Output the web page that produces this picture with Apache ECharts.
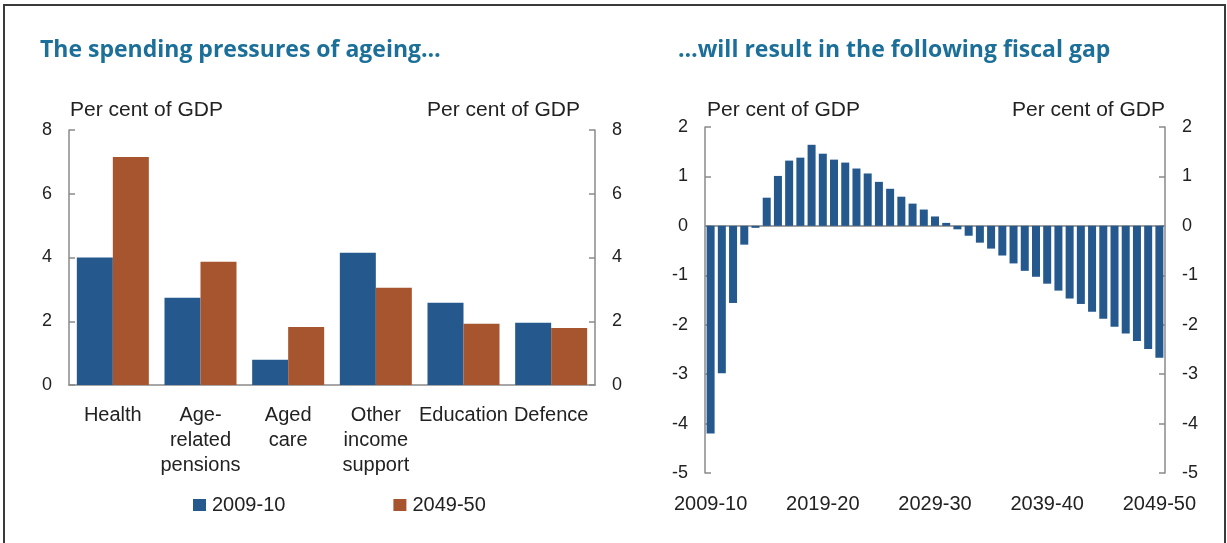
<!DOCTYPE html>
<html>
<head>
<meta charset="utf-8">
<script src="https://cdn.jsdelivr.net/npm/echarts@6/dist/echarts.min.js"></script>
<style>
  html, body { margin: 0; padding: 0; background: #fff; }
  #chart { width: 1227px; height: 543px; }
</style>
</head>
<body>
<div id="chart"></div>
<script>
// left panel: spending by function
const spendCategories = ['Health', 'Age-\nrelated\npensions', 'Aged\ncare', 'Other\nincome\nsupport', 'Education', 'Defence'];
const spend2009 = [4.0, 2.74, 0.79, 4.15, 2.58, 1.95];
const spend2049 = [7.15, 3.87, 1.82, 3.05, 1.92, 1.79];

// right panel: fiscal gap by year
const gapYears = [];
for (let y = 2009; y <= 2049; y++) {
  gapYears.push(y + '-' + String(y + 1).slice(2));
}
const fiscalGap = [
  -4.2, -2.98, -1.56, -0.38, -0.04, 0.57, 1.01, 1.32, 1.38, 1.64,
  1.46, 1.34, 1.28, 1.16, 1.06, 0.89, 0.75, 0.59, 0.45, 0.33,
  0.19, 0.06, -0.07, -0.2, -0.34, -0.46, -0.6, -0.76, -0.91, -1.03,
  -1.17, -1.31, -1.47, -1.58, -1.74, -1.88, -2.04, -2.18, -2.33, -2.49,
  -2.67
];

const BLUE = '#25598d';
const ORANGE = '#a6552e';
const AXIS = '#8a8a8a';
const TEXT = '#222';
const FONT = '"Liberation Sans", Arial, sans-serif';

const chart = echarts.init(document.getElementById('chart'));

const yAxisBase = (pos, gridIndex, min, max, interval) => ({
  type: 'value',
  gridIndex: gridIndex,
  position: pos,
  min: min,
  max: max,
  interval: interval,
  splitLine: { show: false },
  axisLine: { show: true, lineStyle: { color: AXIS, width: 1.5 } },
  axisTick: { show: true, inside: true, length: 6, lineStyle: { color: AXIS, width: 1.5 } },
  axisLabel: { color: TEXT, fontSize: 18, fontFamily: FONT, margin: 17 }
});

const unitTitle = (opts) => Object.assign({
  text: 'Per cent of GDP',
  top: 100,
  padding: 0,
  textStyle: { color: TEXT, fontSize: 21, fontWeight: 'normal', fontFamily: FONT, lineHeight: 21 }
}, opts);

// headings are a rounded geometric face in the original
const headStyle = { color: '#1b6f98', fontSize: 23, fontWeight: 'bold', fontFamily: '"Open Sans", "DejaVu Sans", sans-serif', lineHeight: 26 };

const option = {
  animation: false,
  backgroundColor: '#fff',
  title: [
    { text: 'The spending pressures of ageing…', left: 40, top: 37, padding: 0, textStyle: headStyle },
    { text: '…will result in the following fiscal gap', left: 678, top: 37, padding: 0, textStyle: headStyle },
    unitTitle({ left: 70 }),
    unitTitle({ right: 647 }),
    unitTitle({ left: 707 }),
    unitTitle({ right: 62 })
  ],
  graphic: [{
    type: 'rect',
    shape: { x: 4, y: 5, width: 1221, height: 560 },
    style: { fill: 'none', stroke: '#3a3a3a', lineWidth: 2 },
    silent: true
  }],
  legend: {
    data: ['2009-10', '2049-50'],
    left: 188,
    top: 490,
    itemWidth: 13,
    itemHeight: 12,
    itemGap: 108,
    icon: 'rect',
    textStyle: { color: TEXT, fontSize: 20, fontFamily: FONT, padding: [0, 0, 0, 1] }
  },
  grid: [
    { left: 69, top: 130, width: 526, height: 255 },
    { left: 705, top: 127, width: 460, height: 346 }
  ],
  xAxis: [
    {
      type: 'category',
      gridIndex: 0,
      data: spendCategories,
      axisLine: { lineStyle: { color: AXIS, width: 1.5 } },
      axisTick: { inside: true, length: 7, lineStyle: { color: AXIS, width: 1.5 } },
      axisLabel: { color: TEXT, fontSize: 20, fontFamily: FONT, lineHeight: 25, margin: 18, interval: 0 }
    },
    {
      type: 'category',
      gridIndex: 1,
      data: gapYears,
      axisLine: { onZero: true, lineStyle: { color: '#a0a0a0', width: 2 } },
      axisTick: {
        inside: true, length: 8,
        interval: (i) => i > 0 && i % 10 === 0,
        lineStyle: { color: '#707070', width: 1.5 }
      },
      axisLabel: { show: false }
    },
    {
      type: 'category',
      gridIndex: 1,
      data: gapYears,
      position: 'bottom',
      axisLine: { onZero: true, show: false },
      axisTick: {
        length: 6,
        interval: (i) => i > 0 && i % 10 === 0,
        lineStyle: { color: '#707070', width: 1.5 }
      },
      axisLabel: { show: false }
    },
    {
      type: 'category',
      gridIndex: 1,
      data: gapYears,
      position: 'bottom',
      axisLine: { onZero: false, show: false },
      axisTick: { show: false },
      axisLabel: { color: TEXT, fontSize: 20, fontFamily: FONT, margin: 21, interval: 9 }
    }
  ],
  yAxis: [
    yAxisBase('left', 0, 0, 8, 2),
    yAxisBase('right', 0, 0, 8, 2),
    yAxisBase('left', 1, -5, 2, 1),
    yAxisBase('right', 1, -5, 2, 1)
  ],
  series: [
    {
      name: '2009-10',
      type: 'bar',
      xAxisIndex: 0,
      yAxisIndex: 0,
      data: spend2009,
      barWidth: 36,
      barGap: '0%',
      itemStyle: { color: BLUE }
    },
    {
      name: '2049-50',
      type: 'bar',
      xAxisIndex: 0,
      yAxisIndex: 0,
      data: spend2049,
      barWidth: 36,
      barGap: '0%',
      itemStyle: { color: ORANGE }
    },
    {
      name: 'Fiscal gap',
      type: 'bar',
      xAxisIndex: 1,
      yAxisIndex: 2,
      data: fiscalGap,
      barWidth: 8,
      itemStyle: { color: BLUE }
    }
  ]
};

chart.setOption(option);
window.addEventListener('resize', () => chart.resize());
</script>
</body>
</html>
